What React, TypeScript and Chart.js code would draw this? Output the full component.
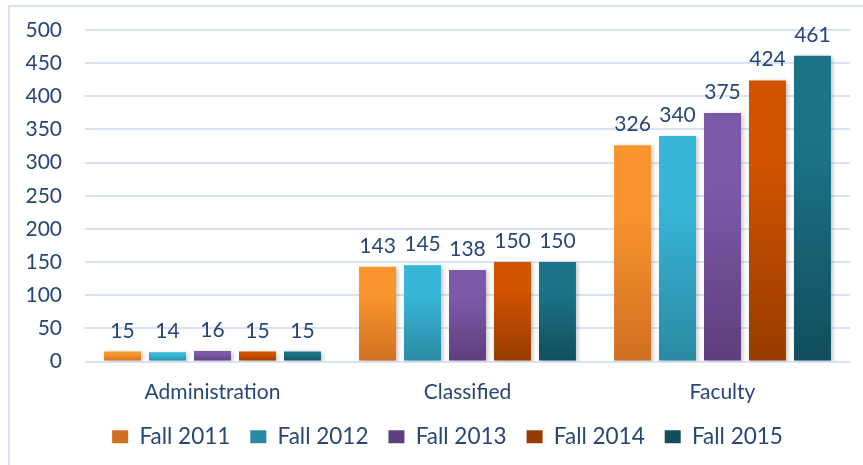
import React, { useEffect, useRef } from "react";
import { Chart, registerables } from "chart.js";

Chart.register(...registerables);

const categories = ["Administration", "Classified", "Faculty"];
const seriesNames = ["Fall 2011", "Fall 2012", "Fall 2013", "Fall 2014", "Fall 2015"];
const fall2011 = [15, 143, 326];
const fall2012 = [14, 145, 340];
const fall2013 = [16, 138, 375];
const fall2014 = [15, 150, 424];
const fall2015 = [15, 150, 461];
const seriesValues = [fall2011, fall2012, fall2013, fall2014, fall2015];
const yMin = 0;
const yMax = 500;
const yStep = 50;

const topColors = ["#F9952E", "#38B6D8", "#7C59A8", "#CF5300", "#1B7387"];
const bottomColors = ["#D06F22", "#2A8AA2", "#5E3E7D", "#983B00", "#114E5D"];

const FONT = "Lato, 'Open Sans', sans-serif";
const TEXT_COLOR = "#264677";

function makeGradient(i: number) {
  return (ctx: any) => {
    const top = topColors[i];
    const chart = ctx.chart;
    if (!chart.chartArea || ctx.type !== "data") return top;
    const v = ctx.raw as number;
    const y = chart.scales.y;
    const yTop = y.getPixelForValue(v);
    const yBot = y.getPixelForValue(0);
    if (!isFinite(yTop) || !isFinite(yBot) || yBot - yTop < 1) return top;
    const g = chart.ctx.createLinearGradient(0, yTop, 0, yBot);
    g.addColorStop(0, top);
    g.addColorStop(0.3, top);
    g.addColorStop(1, bottomColors[i]);
    return g;
  };
}

const framePlugin = {
  id: "frame",
  afterLayout(chart: any) {
    if (chart.legend) {
      chart.legend.left += 10;
      chart.legend.right += 10;
    }
  },
  beforeDraw(chart: any) {
    const c = chart.ctx;
    c.save();
    c.fillStyle = "#ffffff";
    c.fillRect(0, 0, chart.width, chart.height);
    c.strokeStyle = "#D9E3F3";
    c.lineWidth = 2;
    c.beginPath();
    c.moveTo(9, chart.height);
    c.lineTo(9, 6);
    c.lineTo(chart.width, 6);
    c.stroke();
    c.restore();
  },
};

const shadowPlugin = {
  id: "barShadow",
  beforeDatasetsDraw(chart: any) {
    const c = chart.ctx;
    c.save();
    c.shadowColor = "rgba(0,0,0,0.22)";
    c.shadowBlur = 4;
    c.shadowOffsetX = 2;
    c.shadowOffsetY = 1;
  },
  afterDatasetsDraw(chart: any) {
    chart.ctx.restore();
  },
};

const labelPlugin = {
  id: "valueLabels",
  afterDatasetsDraw(chart: any) {
    const c = chart.ctx;
    c.save();
    c.font = `21px ${FONT}`;
    c.fillStyle = TEXT_COLOR;
    c.textAlign = "center";
    c.textBaseline = "alphabetic";
    chart.data.datasets.forEach((ds: any, i: number) => {
      const meta = chart.getDatasetMeta(i);
      meta.data.forEach((bar: any, j: number) => {
        c.fillText(String(ds.data[j]), bar.x, bar.y - 14);
      });
    });
    c.restore();
  },
};

export default function App() {
  const ref = useRef<HTMLCanvasElement | null>(null);

  useEffect(() => {
    if (!ref.current) return;
    const chart = new Chart(ref.current, {
      type: "bar",
      data: {
        labels: categories,
        datasets: seriesNames.map((name, i) => ({
          label: name,
          data: seriesValues[i],
          backgroundColor: makeGradient(i),
          borderWidth: 0,
          barPercentage: 0.822,
          categoryPercentage: 0.882,
        })),
      },
      options: {
        responsive: false,
        animation: false,
        devicePixelRatio: 1,
        layout: { padding: { left: 25, right: 13, top: 30, bottom: 7 } },
        plugins: {
          tooltip: { enabled: false },
          legend: {
            position: "bottom",
            labels: {
              boxWidth: 16,
              boxHeight: 13,
              padding: 20,
              color: TEXT_COLOR,
              font: { family: FONT, size: 22.5 },
            },
          },
        },
        scales: {
          x: {
            grid: { display: false },
            border: { display: false },
            ticks: { color: TEXT_COLOR, font: { family: FONT, size: 21 }, padding: 10 },
            afterFit(scale: any) {
              scale.height = 44;
              scale.paddingLeft = 0;
              scale.paddingRight = 0;
            },
          },
          y: {
            min: yMin,
            max: yMax,
            ticks: { stepSize: yStep, color: TEXT_COLOR, font: { family: FONT, size: 21 }, padding: 23 },
            grid: { color: "#D9E3F3", lineWidth: 2, drawTicks: false },
            border: { display: false },
            afterFit(scale: any) {
              scale.width = 60;
              scale.paddingTop = 0;
              scale.paddingBottom = 0;
            },
          },
        },
      },
      plugins: [framePlugin, shadowPlugin, labelPlugin],
    } as any);
    return () => chart.destroy();
  }, []);

  return (
    <div style={{ position: "fixed", left: 0, top: 0, width: 863, height: 465, background: "#fff" }}>
      <canvas ref={ref} width={863} height={465} style={{ display: "block" }} />
    </div>
  );
}
